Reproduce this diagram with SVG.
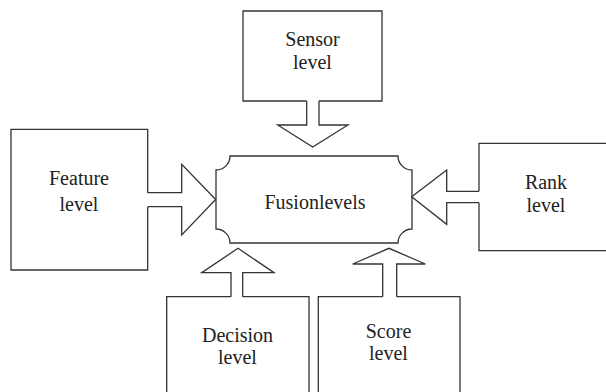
<svg xmlns="http://www.w3.org/2000/svg" width="606" height="392" viewBox="0 0 606 392">
<style>
.ln{fill:none;stroke:#333;stroke-width:1.3;stroke-linejoin:miter}
.ar{fill:#fff;stroke:#333;stroke-width:1.3;stroke-linejoin:miter}
.t{font-family:"Liberation Serif","Times New Roman",serif;font-size:20px;fill:#222;text-anchor:middle}
</style>
<rect width="606" height="392" fill="#fff"/>
<g id="fusion">
<path class="ln" d="M230,156 H398 A14,14 0 0 0 412,170 V229 A14,14 0 0 0 398,243 H230 A14,14 0 0 0 216,229 V170 A14,14 0 0 0 230,156 Z"/>
<text class="t" x="315" y="209">Fusionlevels</text>
</g>
<g id="sensor">
<path class="ln" d="M306.7,101 H243 V11 H382 V101 H319"/>
<text class="t" x="312.5" y="46">Sensor</text>
<text class="t" x="312.5" y="69">level</text>
</g>
<g id="feature">
<path class="ln" d="M147.7,192.7 V129.3 H11 V270 H147.7 V206.7"/>
<text class="t" x="79" y="185">Feature</text>
<text class="t" x="79" y="210.5">level</text>
</g>
<g id="rank">
<path class="ln" d="M479,191.3 V143.3 H610 M610,250.7 H479 V202.7"/>
<text class="t" x="546" y="189">Rank</text>
<text class="t" x="546" y="212">level</text>
</g>
<g id="decision">
<path class="ln" d="M231,296.7 H166.7 V395 M309,395 V296.7 H242.7"/>
<text class="t" x="237.5" y="341.5">Decision</text>
<text class="t" x="237.5" y="364">level</text>
</g>
<g id="score">
<path class="ln" d="M382.7,296.7 H318.3 V395 M460,395 V296.7 H396.7"/>
<text class="t" x="388.5" y="337.5">Score</text>
<text class="t" x="388.5" y="360">level</text>
</g>
<g id="connectors">
<polyline class="ar" points="306.7,101 306.7,125 277.7,125 312.7,147 348,125 319,125 319,101"/>
<polyline class="ar" points="147.7,192.7 181.7,192.7 181.7,164.3 215.7,199.5 181.7,235 181.7,206.7 147.7,206.7"/>
<polyline class="ar" points="479,191.3 446.7,191.3 446.7,170 411.7,196.7 446.7,224.3 446.7,202.7 479,202.7"/>
<polyline class="ar" points="231,296.7 231,272.7 201.7,272.7 238,248.3 274,272.7 242.7,272.7 242.7,296.7"/>
<polyline class="ar" points="382.7,296.7 382.7,264 352.7,264 389,248.3 425.3,264 396.7,264 396.7,296.7"/>
</g>
</svg>
